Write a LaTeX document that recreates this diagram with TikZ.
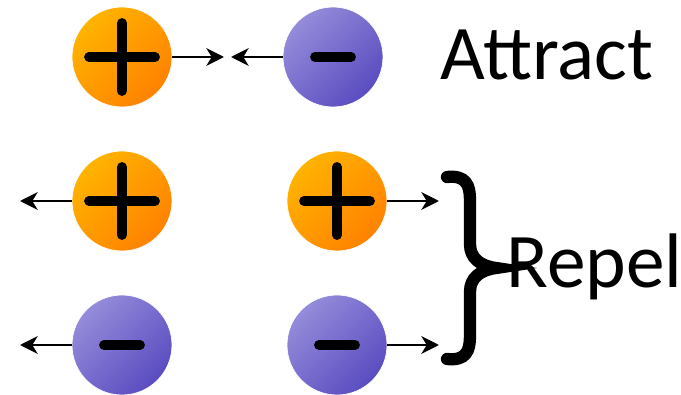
\documentclass[tikz,border=0pt]{standalone}
\usepackage{fontspec}
\setmainfont{Carlito}
\usepackage{tikz}
\usetikzlibrary{arrows.meta, positioning, calc}
\definecolor{poslight}{HTML}{FFB300}
\definecolor{posdark}{HTML}{FF8200}
\definecolor{neglight}{HTML}{948CDA}
\definecolor{negdark}{HTML}{5A4CC0}
\tikzstyle{charge} = [circle, minimum size=2cm, inner sep=0pt, draw=white, line width=0.4pt]
\tikzstyle{poscharge} = [charge, top color=poslight, bottom color=posdark, shading angle=45]
\tikzstyle{negcharge} = [charge, top color=neglight, bottom color=negdark, shading angle=45]
\tikzstyle{signbar} = [line width=5.6pt, line cap=round, black]
\tikzstyle{force} = [line width=1.6pt, -{Stealth[length=10pt,width=10pt,inset=3pt]}]
\tikzstyle{bigtext} = [inner sep=0pt, font=\fontsize{44}{50}\selectfont]

\begin{document}
\begin{tikzpicture}[x=0.02cm, y=-0.02cm]
    \useasboundingbox (0,0) rectangle (681,395);

    % Charges
    \node (ap) [poscharge] at (122,57) {};
    \node (an) [negcharge] at (333,57) {};
    \node (lp) [poscharge] at (122,201) {};
    \node (rp) [poscharge] at (337,201) {};
    \node (ln) [negcharge] at (122,345) {};
    \node (rn) [negcharge] at (337,345) {};

    % Signs
    \foreach \c in {ap, lp, rp} {
        \draw [signbar] ($(\c.center)+(-33,0)$) -- ($(\c.center)+(33,0)$);
        \draw [signbar] ($(\c.center)+(0,-34)$) -- ($(\c.center)+(0,34)$);
    }
    \foreach \c in {an, ln, rn}
        \draw [signbar] ($(\c.center)+(-18,0)$) -- ($(\c.center)+(18,0)$);

    % Force ends
    \coordinate (a1) at (224,57);
    \coordinate (a2) at (231,57);
    \coordinate (l1) at (20,201);
    \coordinate (l2) at (20,345);
    \coordinate (r1) at (439,201);
    \coordinate (r2) at (439,345);

    % Forces
    \draw [force] (ap.east) -- (a1);
    \draw [force] (an.west) -- (a2);
    \draw [force] (lp.west) -- (l1);
    \draw [force] (ln.west) -- (l2);
    \draw [force] (rp.east) -- (r1);
    \draw [force] (rn.east) -- (r2);

    % Brace
    \draw [line width=7pt, line cap=round]
        (447,177) .. controls (466,175) and (470,185) .. (470,200)
        -- (470,244) .. controls (470,258) and (480,266) .. (496,268)
        .. controls (480,270) and (470,278) .. (470,292)
        -- (470,336) .. controls (470,351) and (466,361) .. (447,359);

    % Labels
    \node (attract) [bigtext, anchor=base west] at (440,80) {Attract};
    \node (repel) [bigtext, anchor=base west] at (506,288) {Repel};
\end{tikzpicture}
\end{document}
